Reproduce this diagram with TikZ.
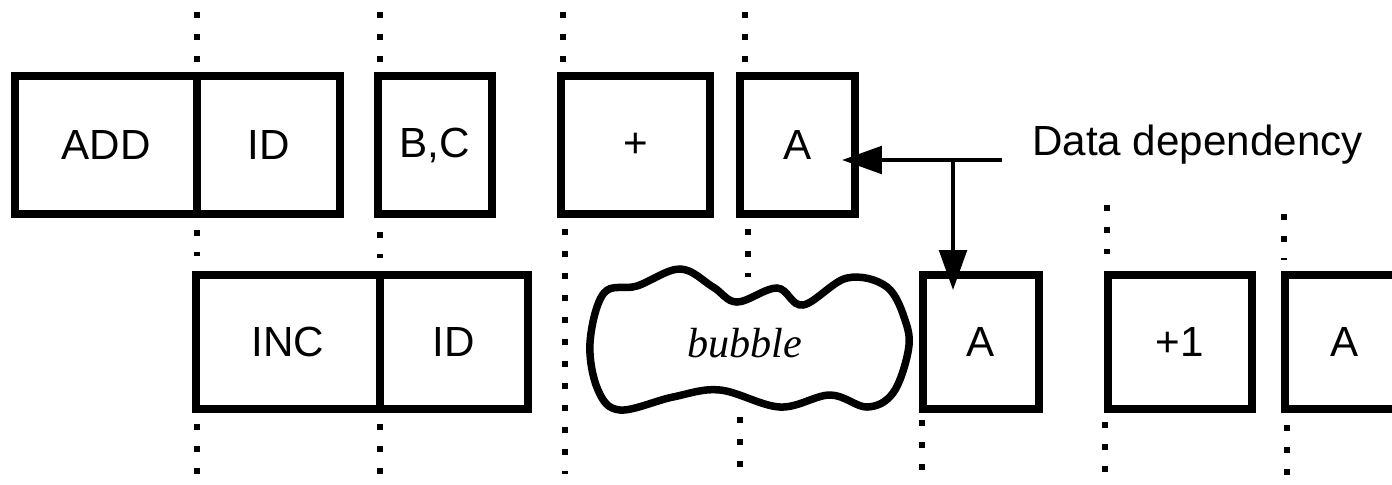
\documentclass[tikz,border=0pt]{standalone}
\usepackage{fontspec}
\setmainfont{Liberation Serif}
\setsansfont{Liberation Sans}
\usetikzlibrary{arrows.meta,positioning}

\begin{document}
\begin{tikzpicture}[
  x=0.02cm,y=-0.02cm,
  font=\sffamily\fontsize{24}{28}\selectfont,
  cell/.style={draw,line width=0.16cm,outer sep=0pt,inner sep=0pt,
               minimum height=2.76cm},
  cellB/.style={cell,minimum height=2.68cm},
  dotline/.style={line width=0.13cm,dash pattern=on 0.12cm off 0.32cm},
  deparr/.style={-{Triangle[length=0.8cm,width=0.55cm]},line width=0.08cm},
  bubtxt/.style={font=\rmfamily\itshape\fontsize{24}{28}\selectfont}
]
\clip (0,0) rectangle (1392,484);

% Stage lines
\foreach \x/\ya/\yb in {197/12/64, 380/12/64, 563/12/64, 745/12/64,
    197/230/256, 380/232/258, 565/229/474, 748/229/277,
    197/424/484, 380/424/484, 740/417/470, 922/420/472,
    1105/422/474, 1287/425/476, 1107/205/254, 1284/214/260}
  \draw[dotline] (\x,\ya) -- (\x,\yb);

% First instruction
\node[cell,minimum width=3.64cm] (add) at (106,145) {ADD};
\node[cell,minimum width=2.86cm,right=0pt of add] (idA) {ID};
\node[cell,minimum width=2.28cm] (bc)   at (435,145)   {B,C};
\node[cell,minimum width=2.98cm] (plus) at (635.5,145) {+};
\node[cell,minimum width=2.3cm]  (aTop) at (797.5,145) {A};

% Second instruction
\node[cellB,minimum width=3.68cm] (inc) at (288,342) {INC};
\node[cellB,minimum width=2.96cm,right=0pt of inc] (idB) {ID};
\node[cellB,minimum width=2.32cm] (aLow)    at (981,342)  {A};
\node[cellB,minimum width=2.88cm] (plusOne) at (1180,342) {+1};
\node[cellB,minimum width=2.4cm]  (aEnd)    at (1345,342) {A};

% Bubble
\draw[line width=0.15cm] plot[smooth cycle,tension=0.6] coordinates {
  (590,343) (604,293) (637,286) (680,269) (713,287) (737,302)
  (777,288) (803,305) (847,278) (887,287) (906,323) (908,352)
  (893,393) (867,407) (830,395) (780,407) (720,390) (673,397)
  (620,410) (598,390)};
\node[bubtxt] (bub) at (745,343) {bubble};

% Data dependency
\node[anchor=base west] (ddlbl) at (1026,155) {Data dependency};
\coordinate (ddend) at (1002,160);
\coordinate (jn) at (953,160);
\draw[deparr,shorten >=-0.26cm] (ddend) -- (ddend -| aTop.east);
\draw[deparr,shorten >=-0.3cm] (jn) -- (jn |- aLow.north);

\end{tikzpicture}
\end{document}
